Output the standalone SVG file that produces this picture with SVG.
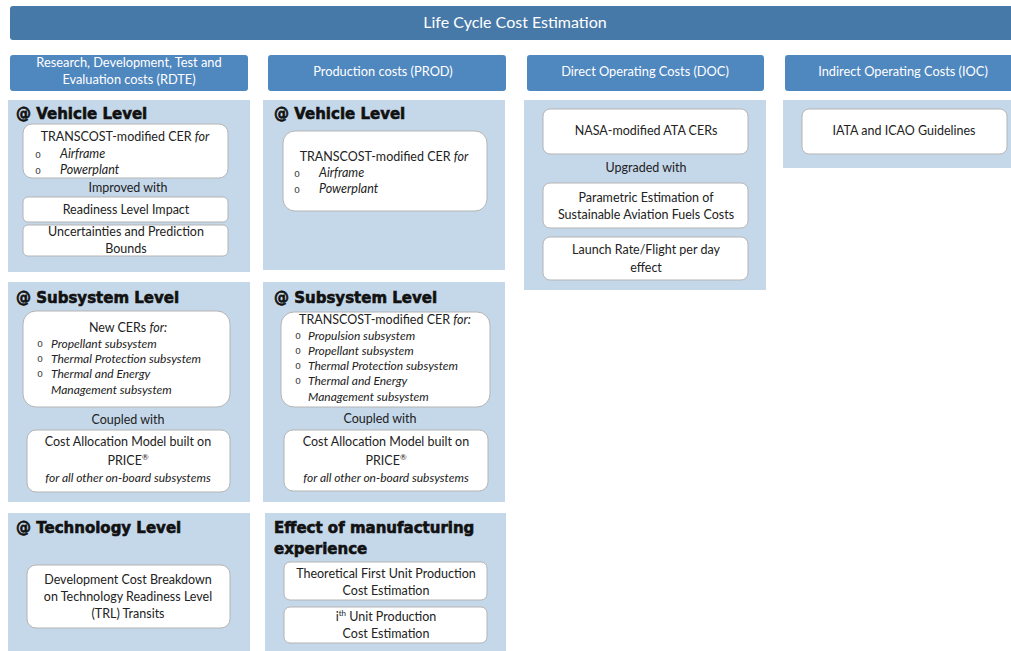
<svg xmlns="http://www.w3.org/2000/svg" width="1011" height="651" viewBox="0 0 1011 651">
  <style>
    .bar { fill: #4779A8; }
    .hdr { fill: #4F87BF; }
    .panel { fill: #C5D8EA; }
    .box { fill: #FFFFFF; stroke: #B4B4B4; stroke-width: 1; }
    .title { font-family: Lato, "Open Sans", sans-serif; font-size: 16px; fill: #FFFFFF; text-anchor: middle; }
    .ht { font-family: Lato, "Open Sans", sans-serif; font-size: 12.8px; fill: #FFFFFF; text-anchor: middle; }
    .t { font-family: Lato, "Open Sans", sans-serif; font-size: 12.5px; fill: #222222; text-anchor: middle; }
    .l { font-family: Lato, "Open Sans", sans-serif; font-size: 12.5px; fill: #222222; }
    .s { font-family: Lato, "Open Sans", sans-serif; font-size: 12px; fill: #222222; font-style: italic; }
    .b { font-family: "DejaVu Sans Mono", monospace; font-size: 10px; fill: #444444; }
    .i { font-style: italic; }
    .h { font-family: "DejaVu Sans", sans-serif; font-weight: bold; font-size: 15px; fill: #111111; stroke: #111111; stroke-width: 0.6; }
  </style>

  <!-- top banner -->
  <g id="lcc-title">
    <rect class="bar" x="10" y="6" width="1010" height="34" rx="3"/>
    <text class="title" x="515" y="28">Life Cycle Cost Estimation</text>
  </g>

  <!-- category headers -->
  <g id="hdr-rdte">
    <rect class="hdr" x="10" y="55" width="238" height="36" rx="3"/>
    <text class="ht" x="129" y="67">Research, Development, Test and</text>
    <text class="ht" x="129" y="84">Evaluation costs (RDTE)</text>
  </g>
  <g id="hdr-prod">
    <rect class="hdr" x="268" y="55" width="238" height="36" rx="3"/>
    <text class="ht" x="383" y="76">Production costs (PROD)</text>
  </g>
  <g id="hdr-doc">
    <rect class="hdr" x="527" y="55" width="237" height="36" rx="3"/>
    <text class="ht" x="645" y="76">Direct Operating Costs (DOC)</text>
  </g>
  <g id="hdr-ioc">
    <rect class="hdr" x="785" y="55" width="232" height="36" rx="3"/>
    <text class="ht" x="903" y="76">Indirect Operating Costs (IOC)</text>
  </g>

  <!-- RDTE: vehicle level -->
  <g id="rdte-vehicle">
    <rect class="panel" x="8" y="100" width="242" height="172"/>
    <text class="h" x="16" y="119">@ Vehicle Level</text>
    <rect class="box" x="23" y="124" width="205" height="54" rx="9"/>
    <text class="t" x="125" y="141">TRANSCOST-modified CER <tspan class="i">for</tspan></text>
    <text class="b" x="35" y="158">o</text>
    <text class="l i" x="60" y="158">Airframe</text>
    <text class="b" x="35" y="174">o</text>
    <text class="l i" x="60" y="174">Powerplant</text>
    <text class="t" x="128" y="192">Improved with</text>
    <rect class="box" x="23" y="197" width="205" height="25" rx="5"/>
    <text class="t" x="126" y="214">Readiness Level Impact</text>
    <rect class="box" x="23" y="225" width="205" height="31" rx="5"/>
    <text class="t" x="126" y="236">Uncertainties and Prediction</text>
    <text class="t" x="126" y="253">Bounds</text>
  </g>

  <!-- PROD: vehicle level -->
  <g id="prod-vehicle">
    <rect class="panel" x="263" y="100" width="242" height="170"/>
    <text class="h" x="274" y="119">@ Vehicle Level</text>
    <rect class="box" x="283" y="131" width="204" height="80" rx="12"/>
    <text class="t" x="384" y="161">TRANSCOST-modified CER <tspan class="i">for</tspan></text>
    <text class="b" x="294" y="177">o</text>
    <text class="l i" x="319" y="177">Airframe</text>
    <text class="b" x="294" y="193">o</text>
    <text class="l i" x="319" y="193">Powerplant</text>
  </g>

  <!-- DOC -->
  <g id="doc-panel">
    <rect class="panel" x="524" y="100" width="242" height="190"/>
    <rect class="box" x="543" y="109" width="205" height="45" rx="7"/>
    <text class="t" x="646" y="135">NASA-modified ATA CERs</text>
    <text class="t" x="646" y="172">Upgraded with</text>
    <rect class="box" x="543" y="183" width="205" height="45" rx="7"/>
    <text class="t" x="646" y="202">Parametric Estimation of</text>
    <text class="t" x="646" y="219">Sustainable Aviation Fuels Costs</text>
    <rect class="box" x="543" y="237" width="205" height="43" rx="7"/>
    <text class="t" x="646" y="254">Launch Rate/Flight per day</text>
    <text class="t" x="646" y="272">effect</text>
  </g>

  <!-- IOC -->
  <g id="ioc-panel">
    <rect class="panel" x="783" y="100" width="230" height="68"/>
    <rect class="box" x="802" y="109" width="205" height="45" rx="7"/>
    <text class="t" x="904" y="135">IATA and ICAO Guidelines</text>
  </g>

  <!-- RDTE: subsystem level -->
  <g id="rdte-subsystem">
    <rect class="panel" x="8" y="282" width="242" height="220"/>
    <text class="h" x="16" y="303">@ Subsystem Level</text>
    <rect class="box" x="23" y="311" width="207" height="96" rx="13"/>
    <text class="t" x="128" y="332">New CERs <tspan class="i">for:</tspan></text>
    <text class="b" x="37" y="347">o</text>
    <text class="s" x="51" y="348">Propellant subsystem</text>
    <text class="b" x="37" y="362">o</text>
    <text class="s" x="51" y="363">Thermal Protection subsystem</text>
    <text class="b" x="37" y="377">o</text>
    <text class="s" x="51" y="378">Thermal and Energy</text>
    <text class="s" x="51" y="394">Management subsystem</text>
    <text class="t" x="128" y="424">Coupled with</text>
    <rect class="box" x="27" y="430" width="203" height="62" rx="9"/>
    <text class="t" x="128" y="446">Cost Allocation Model built on</text>
    <text class="t" x="128" y="465">PRICE<tspan font-size="8" dy="-5">®</tspan></text>
    <text class="s" x="128" y="482" text-anchor="middle">for all other on-board subsystems</text>
  </g>

  <!-- PROD: subsystem level -->
  <g id="prod-subsystem">
    <rect class="panel" x="263" y="282" width="242" height="220"/>
    <text class="h" x="274" y="303">@ Subsystem Level</text>
    <rect class="box" x="281" y="312" width="209" height="95" rx="13"/>
    <text class="t" x="385" y="324">TRANSCOST-modified CER <tspan class="i">for:</tspan></text>
    <text class="b" x="295" y="339">o</text>
    <text class="s" x="308" y="340">Propulsion subsystem</text>
    <text class="b" x="295" y="354">o</text>
    <text class="s" x="308" y="355">Propellant subsystem</text>
    <text class="b" x="295" y="369">o</text>
    <text class="s" x="308" y="370">Thermal Protection subsystem</text>
    <text class="b" x="295" y="384">o</text>
    <text class="s" x="308" y="385">Thermal and Energy</text>
    <text class="s" x="308" y="401">Management subsystem</text>
    <text class="t" x="380" y="423">Coupled with</text>
    <rect class="box" x="284" y="430" width="204" height="61" rx="9"/>
    <text class="t" x="386" y="446">Cost Allocation Model built on</text>
    <text class="t" x="386" y="465">PRICE<tspan font-size="8" dy="-5">®</tspan></text>
    <text class="s" x="386" y="482" text-anchor="middle">for all other on-board subsystems</text>
  </g>

  <!-- RDTE: technology level -->
  <g id="rdte-technology">
    <rect class="panel" x="8" y="513" width="242" height="145"/>
    <text class="h" x="16" y="533">@ Technology Level</text>
    <rect class="box" x="27" y="565" width="203" height="63" rx="9"/>
    <text class="t" x="128" y="584">Development Cost Breakdown</text>
    <text class="t" x="128" y="601">on Technology Readiness Level</text>
    <text class="t" x="128" y="618">(TRL) Transits</text>
  </g>

  <!-- PROD: manufacturing experience -->
  <g id="prod-experience">
    <rect class="panel" x="265" y="513" width="241" height="145"/>
    <text class="h" x="274" y="533">Effect of manufacturing</text>
    <text class="h" x="274" y="554">experience</text>
    <rect class="box" x="284" y="562" width="203" height="38" rx="6"/>
    <text class="t" x="386" y="578">Theoretical First Unit Production</text>
    <text class="t" x="386" y="595">Cost Estimation</text>
    <rect class="box" x="284" y="607" width="203" height="36" rx="6"/>
    <text class="t" x="386" y="621">i<tspan font-size="8" dy="-5">th</tspan><tspan dy="5"> Unit Production</tspan></text>
    <text class="t" x="386" y="638">Cost Estimation</text>
  </g>
</svg>
